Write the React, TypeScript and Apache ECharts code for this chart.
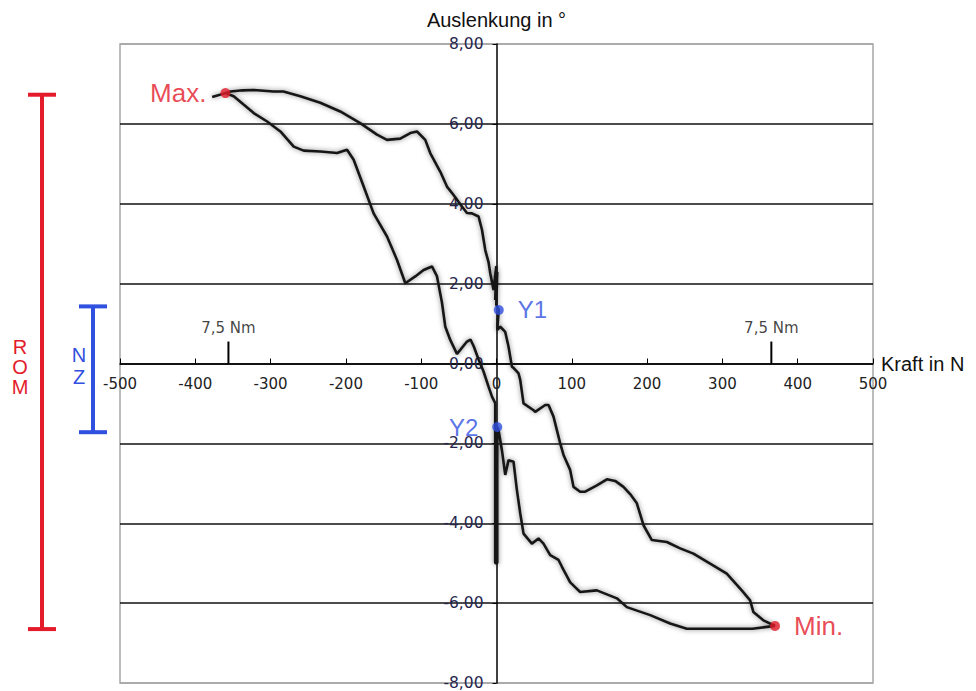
import React, { useEffect, useRef } from "react";
import * as echarts from "echarts";

// ---- data (Kraft in N, Auslenkung in °) ----
const xTickInterval = 100;
const yTickInterval = 2;

const upperCurve: [number, number][] = [
  [-377.6, 6.67], [-360.0, 6.77], [-353.3, 6.81], [-337, 6.84], [-322.4, 6.85],
  [-309, 6.83], [-296.3, 6.81], [-283.0, 6.81], [-260.5, 6.69], [-234.0, 6.53],
  [-207.5, 6.31], [-181.0, 6.02], [-158.7, 5.73], [-145.4, 5.6], [-127.8, 5.63],
  [-114.5, 5.77], [-105.6, 5.81], [-94.6, 5.6], [-88.0, 5.27], [-74.6, 4.8],
  [-65.8, 4.43], [-57.0, 4.22], [-45.9, 3.93], [-39.2, 3.77], [-32.6, 3.76],
  [-23.8, 3.68], [-19.3, 3.35], [-14.9, 2.84], [-10.6, 2.54], [-8.3, 2.26],
  [-3.9, 1.84], [-0.3, 2.44], [-1.7, 1.59], [1.0, 2.29], [-0.3, 1.47],
  [3.0, 1.34], [1.0, 0.84], [5.0, 0.92], [11.6, 0.79], [16.0, 0.42],
  [20.5, -0.08], [22.6, -0.11], [29.3, -0.25], [31.5, -0.41], [35.9, -1.0],
  [49.2, -1.17], [51.4, -1.21], [64.7, -1.04], [69.1, -1.04], [75.7, -1.33],
  [84.6, -2.0], [89.0, -2.29], [97.9, -2.67], [102.3, -3.09], [111.1, -3.21],
  [117.8, -3.21], [133.3, -3.05], [146.6, -2.9], [157.6, -2.94], [168.6, -3.09],
  [177.5, -3.27], [186.4, -3.5], [195.2, -4.05], [206.3, -4.42], [226.2, -4.47],
  [243.9, -4.63], [261.5, -4.76], [283.7, -5.01], [305.8, -5.26], [325.7, -5.68],
  [336.8, -5.93], [341.1, -6.22], [354.4, -6.43], [369.9, -6.57],
];

const lowerCurve: [number, number][] = [
  [369.9, -6.57], [340, -6.64], [296.6, -6.64], [252.7, -6.64], [230.6, -6.51],
  [204.1, -6.3], [173.1, -6.1], [159.9, -5.88], [133.3, -5.68], [111.1, -5.72],
  [97.9, -5.48], [86.9, -5.09], [82.4, -4.92], [71.3, -4.8], [62.4, -4.51],
  [55.8, -4.38], [47.0, -4.51], [35.9, -4.26], [31.5, -3.75], [27.1, -3.17],
  [22.6, -2.46], [16.0, -2.42], [11.6, -2.79], [7.2, -2.17], [2.7, -1.67],
  [1.0, -1.59], [1.0, -5.0], [-1.7, -5.0], [-1.7, -1.29], [-1.7, -0.99],
  [-6.0, -0.83], [-10.6, -0.58], [-17.2, -0.2], [-23.8, 0.1], [-30.0, 0.42],
  [-34.5, 0.6], [-39.2, 0.55], [-48.1, 0.34], [-52.5, 0.24], [-61.4, 0.59],
  [-68.0, 0.92], [-72.4, 1.52], [-79.0, 2.18], [-85.7, 2.43], [-96.8, 2.34],
  [-107.9, 2.18], [-121.1, 2.01], [-132.1, 2.59], [-145.4, 3.18], [-163.2, 3.76],
  [-176.4, 4.43], [-189.7, 5.1], [-198.5, 5.35], [-211.7, 5.27], [-233.9, 5.31],
  [-256.1, 5.33], [-269.3, 5.43], [-287.0, 5.81], [-304.6, 6.06], [-322.4, 6.27],
  [-349.0, 6.69], [-360.0, 6.77],
];

const maxPoint: [number, number] = [-360.0, 6.77];
const minPoint: [number, number] = [369.9, -6.57];
const y1Point: [number, number] = [3.0, 1.34];
const y2Point: [number, number] = [1.0, -1.59];

const torqueMarks = [-356, 365]; // 7,5 Nm
const torqueMarkHeight = 0.55;
const torqueLabel = "7,5 Nm";

const romRange: [number, number] = [6.73, -6.65];
const nzRange: [number, number] = [1.43, -1.72];

// ---- layout / styles ----
const W = 976;
const H = 691;
const G = { left: 120, right: 103, top: 44, bottom: 8 };
const RED = "#e31b2b";
const BLUE = "#3050e0";
const SANS = "'Liberation Sans', Arial, Helvetica, sans-serif";
const TICK = "'DejaVu Sans', Verdana, sans-serif";

const curveLine = {
  color: "#161616",
  width: 2.6,
  shadowColor: "rgba(0,0,0,0.5)",
  shadowBlur: 5,
};

export default function App() {
  const ref = useRef<HTMLDivElement>(null);

  useEffect(() => {
    if (!ref.current) return;
    const chart = echarts.init(ref.current, undefined, { renderer: "svg" });

    const gridW = W - G.left - G.right;
    const gridH = H - G.top - G.bottom;
    const splitColors = ["#a6a6a6", "#111", "#111", "#111", "#111", "#111", "#111", "#111", "#a6a6a6"];

    const option: any = {
      animation: false,
      backgroundColor: "#ffffff",
      grid: {
        ...G,
        show: true,
        borderColor: "#a6a6a6",
        borderWidth: 1.5,
        backgroundColor: "transparent",
        containLabel: false,
        outerBoundsMode: "none",
      },
      xAxis: {
        type: "value",
        min: -500,
        max: 500,
        interval: xTickInterval,
        position: "bottom",
        offset: -gridH / 2,
        axisLine: { onZero: false, lineStyle: { color: "#000", width: 1.5 } },
        axisTick: { show: true, inside: true, length: 5, lineStyle: { color: "#000" } },
        axisLabel: { color: "#222", fontSize: 15, fontFamily: TICK, margin: 13 },
        splitLine: { show: false },
        name: "Kraft in N",
        nameLocation: "end",
        nameGap: 8,
        nameTextStyle: { fontSize: 20, fontFamily: SANS, color: "#111" },
      },
      yAxis: {
        type: "value",
        min: -8,
        max: 8,
        interval: yTickInterval,
        position: "left",
        offset: -gridW / 2,
        axisLine: { onZero: false, lineStyle: { color: "#000", width: 1.5 } },
        axisTick: { show: true, length: 4, lineStyle: { color: "#000" } },
        axisLabel: {
          color: "#26264d",
          fontSize: 15.5,
          fontFamily: TICK,
          margin: 13,
          formatter: (v: number) => v.toFixed(2).replace(".", ","),
        },
        splitLine: { show: true, lineStyle: { color: splitColors, width: 1.5 } },
        name: "Auslenkung in °",
        nameLocation: "end",
        nameGap: 14,
        nameTextStyle: { fontSize: 20, fontFamily: SANS, color: "#111" },
      },
      series: [
        {
          type: "line",
          name: "Belastung",
          data: upperCurve,
          symbol: "none",
          showSymbol: false,
          lineStyle: curveLine,
          z: 3,
        },
        {
          type: "line",
          name: "Entlastung",
          data: lowerCurve,
          symbol: "none",
          showSymbol: false,
          lineStyle: curveLine,
          z: 3,
        },
        ...torqueMarks.map((x) => ({
          type: "line",
          data: [
            [x, 0],
            [x, torqueMarkHeight],
          ],
          symbol: "none",
          lineStyle: { color: "#000", width: 2 },
          silent: true,
          z: 4,
        })),
        {
          type: "scatter",
          data: torqueMarks.map((x) => [x, torqueMarkHeight]),
          symbolSize: 1,
          itemStyle: { color: "rgba(0,0,0,0)" },
          label: {
            show: true,
            position: "top",
            distance: 6,
            formatter: torqueLabel,
            fontSize: 15,
            fontFamily: TICK,
            color: "#111",
          },
          silent: true,
          z: 4,
        },
        {
          type: "scatter",
          symbolSize: 10,
          z: 6,
          data: [
            {
              value: maxPoint,
              itemStyle: { color: RED },
              label: { show: true, position: "left", distance: 14, formatter: "Max.", color: RED, fontSize: 26, fontFamily: SANS },
            },
            {
              value: minPoint,
              itemStyle: { color: RED },
              label: { show: true, position: "right", distance: 14, formatter: "Min.", color: RED, fontSize: 26, fontFamily: SANS },
            },
            {
              value: y1Point,
              itemStyle: { color: BLUE },
              label: { show: true, position: "right", distance: 14, formatter: "Y1", color: BLUE, fontSize: 24, fontFamily: SANS },
            },
            {
              value: y2Point,
              itemStyle: { color: BLUE },
              label: { show: true, position: "left", distance: 14, formatter: "Y2", color: BLUE, fontSize: 24, fontFamily: SANS },
            },
          ],
        },
      ],
    };

    chart.setOption(option);

    const py = (y: number) => (chart.convertToPixel({ gridIndex: 0 }, [0, y]) as number[])[1];
    const romTop = py(romRange[0]);
    const romBot = py(romRange[1]);
    const nzTop = py(nzRange[0]);
    const nzBot = py(nzRange[1]);

    const bracket = (cx: number, half: number, top: number, bot: number, color: string) => [
      { type: "line", shape: { x1: cx, y1: top, x2: cx, y2: bot }, style: { stroke: color, lineWidth: 4 } },
      { type: "line", shape: { x1: cx - half, y1: top, x2: cx + half, y2: top }, style: { stroke: color, lineWidth: 4 } },
      { type: "line", shape: { x1: cx - half, y1: bot, x2: cx + half, y2: bot }, style: { stroke: color, lineWidth: 4 } },
    ];

    chart.setOption({
      graphic: [
        ...bracket(42, 14, romTop, romBot, RED),
        ...bracket(93, 14, nzTop, nzBot, BLUE),
        {
          type: "text",
          x: 20,
          y: 367,
          style: {
            text: "R\nO\nM",
            fill: RED,
            font: `20px ${SANS}`,
            lineHeight: 20,
            align: "center",
            verticalAlign: "middle",
          },
        },
        {
          type: "text",
          x: 79,
          y: 366,
          style: {
            text: "N\nZ",
            fill: BLUE,
            font: `20px ${SANS}`,
            lineHeight: 22,
            align: "center",
            verticalAlign: "middle",
          },
        },
      ],
    });

    return () => chart.dispose();
  }, []);

  return (
    <div
      ref={ref}
      style={{ position: "absolute", left: 0, top: 0, width: W, height: H, background: "#fff" }}
    />
  );
}
